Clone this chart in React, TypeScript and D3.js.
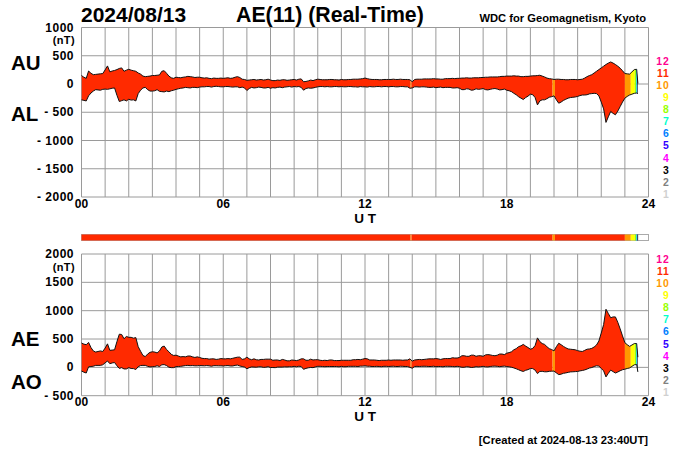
import * as d3 from "d3";

const WIDTH = 700;
const HEIGHT = 450;
const X0 = 81.5;
const X1 = 648.5;

// sample times in UT hours: every 0.1 h up to 23.5, then the final reading
const HOURS = [...d3.range(0, 236).map((i) => i / 10), 23.55];

const AU = [
  150, 120, 100, 230, 190, 165, 170, 175, 180, 185,
  250, 320, 215, 230, 240, 255, 275, 285, 225, 245,
  260, 245, 235, 225, 195, 175, 140, 130, 135, 140,
  150, 150, 155, 160, 225, 235, 190, 140, 110, 100,
  120, 115, 110, 120, 125, 135, 130, 125, 115, 120,
  120, 110, 105, 110, 100, 95, 105, 100, 100, 105,
  100, 105, 110, 100, 105, 120, 130, 115, 85, 80,
  65, 70, 75, 80, 70, 75, 80, 70, 75, 85,
  70, 60, 60, 70, 65, 75, 75, 65, 70, 75,
  80, 70, 85, 90, 40, 45, 55, 70, 60, 75,
  85, 80, 75, 75, 75, 80, 80, 75, 75, 70,
  80, 75, 75, 80, 80, 85, 85, 85, 90, 95,
  105, 95, 85, 80, 80, 80, 75, 75, 80, 80,
  80, 80, 85, 80, 80, 85, 80, 80, 80, 75,
  40, 80, 85, 85, 85, 90, 90, 90, 90, 95,
  90, 90, 85, 85, 95, 95, 95, 100, 95, 100,
  100, 105, 105, 110, 105, 105, 110, 110, 110, 115,
  115, 120, 120, 125, 125, 125, 125, 130, 135, 135,
  140, 140, 140, 145, 140, 140, 130, 130, 135, 135,
  140, 145, 145, 150, 155, 140, 125, 105, 95, 90,
  80, 85, 85, 80, 80, 75, 75, 80, 80, 80,
  75, 80, 85, 105, 130, 150, 165, 195, 225, 255,
  285, 315, 345, 370, 390, 370, 345, 315, 280, 235,
  185, 180, 175, 215, 255, 260, 10,
];
const AL = [
  -280, -290, -300, -210, -160, -125, -100, -105, -110, -95,
  -90, -95, -85, -75, -70, -200, -310, -295, -280, -300,
  -270, -285, -280, -300, -170, -110, -70, -60, -100, -125,
  -125, -120, -100, -130, -135, -140, -125, -135, -120, -110,
  -95, -85, -75, -70, -60, -65, -70, -60, -60, -65,
  -55, -50, -50, -45, -45, -55, -45, -40, -45, -50,
  -50, -45, -45, -50, -55, -50, -50, -65, -55, -70,
  -115, -80, -60, -70, -65, -55, -60, -70, -70, -60,
  -75, -65, -70, -60, -55, -65, -55, -50, -45, -55,
  -45, -50, -45, -60, -110, -80, -70, -75, -70, -60,
  -50, -45, -45, -50, -45, -50, -50, -45, -45, -50,
  -45, -50, -50, -45, -45, -50, -50, -55, -45, -50,
  -50, -55, -45, -50, -50, -45, -45, -50, -45, -45,
  -50, -45, -45, -50, -50, -45, -45, -50, -50, -75,
  -70, -50, -50, -55, -50, -50, -55, -60, -60, -55,
  -65, -60, -55, -65, -60, -60, -60, -70, -70, -65,
  -75, -100, -100, -85, -90, -110, -105, -85, -95, -90,
  -80, -100, -105, -95, -85, -80, -90, -105, -100, -90,
  -110, -120, -135, -165, -190, -225, -250, -275, -240, -215,
  -180, -190, -240, -370, -300, -280, -280, -260, -235, -225,
  -210, -280, -340, -320, -290, -270, -250, -240, -235, -230,
  -220, -205, -195, -195, -190, -175, -170, -165, -170, -210,
  -320, -440, -680, -580, -485, -520, -545, -480, -400, -320,
  -250, -220, -195, -180, -165, -160, -170,
];
const AE = [
  430, 410, 400, 440, 350, 290, 270, 280, 290, 280,
  340, 415, 300, 305, 310, 455, 585, 580, 505, 545,
  530, 530, 515, 525, 365, 285, 210, 190, 235, 265,
  275, 270, 255, 290, 360, 375, 315, 275, 230, 210,
  215, 200, 185, 190, 185, 200, 200, 185, 175, 185,
  175, 160, 155, 155, 145, 150, 150, 140, 145, 155,
  150, 150, 155, 150, 160, 170, 180, 180, 140, 150,
  180, 150, 135, 150, 135, 130, 140, 140, 145, 145,
  145, 125, 130, 130, 120, 140, 130, 115, 115, 130,
  125, 120, 130, 150, 150, 125, 125, 145, 130, 135,
  135, 125, 120, 125, 120, 130, 130, 120, 120, 120,
  125, 125, 125, 125, 125, 135, 135, 140, 135, 145,
  155, 150, 130, 130, 130, 125, 120, 125, 125, 125,
  130, 125, 130, 130, 130, 130, 125, 130, 130, 150,
  110, 130, 135, 140, 135, 140, 145, 150, 150, 150,
  155, 150, 140, 150, 155, 155, 155, 170, 165, 165,
  175, 205, 205, 195, 195, 215, 215, 195, 205, 205,
  195, 220, 225, 220, 210, 205, 215, 235, 235, 225,
  250, 260, 275, 310, 330, 365, 380, 405, 375, 350,
  320, 335, 385, 520, 455, 420, 405, 365, 330, 315,
  290, 365, 425, 400, 370, 345, 325, 320, 315, 310,
  295, 285, 280, 300, 320, 325, 335, 360, 395, 465,
  605, 755, 1025, 950, 875, 890, 890, 795, 680, 555,
  435, 400, 370, 395, 420, 420, 180,
];
const AO = [
  -65, -85, -100, 10, 15, 20, 35, 35, 35, 45,
  80, 112, 65, 78, 85, 28, -18, -5, -28, -28,
  -5, -20, -22, -38, 12, 32, 35, 35, 18, 8,
  12, 15, 28, 15, 45, 48, 32, 3, -5, -5,
  12, 15, 18, 25, 32, 35, 30, 32, 28, 28,
  32, 30, 28, 32, 28, 20, 30, 30, 28, 28,
  25, 30, 32, 25, 25, 35, 40, 25, 15, 5,
  -25, -5, 8, 5, 3, 10, 10, 0, 3, 12,
  -3, -3, -5, 5, 5, 5, 10, 8, 12, 10,
  18, 10, 20, 15, -35, -18, -8, -2, -5, 8,
  18, 18, 15, 12, 15, 15, 15, 15, 15, 10,
  18, 12, 12, 18, 18, 18, 18, 15, 22, 22,
  28, 20, 20, 15, 15, 18, 15, 12, 18, 18,
  15, 18, 20, 15, 15, 20, 18, 15, 15, 0,
  -15, 15, 18, 15, 18, 20, 18, 15, 15, 20,
  12, 15, 15, 10, 18, 18, 18, 15, 12, 18,
  12, 2, 2, 12, 8, -2, 2, 12, 8, 12,
  18, 10, 8, 15, 20, 22, 18, 12, 18, 22,
  15, 10, 2, -10, -25, -42, -60, -72, -52, -40,
  -20, -22, -48, -110, -72, -70, -78, -78, -70, -68,
  -65, -98, -128, -120, -105, -98, -88, -80, -78, -75,
  -72, -62, -55, -45, -30, -12, -3, 15, 28, 22,
  -18, -62, -168, -105, -48, -75, -100, -82, -60, -42,
  -32, -20, -10, 18, 45, 50, -80,
];

// number of contributing stations along the day
const SEGMENT_START = [0, 13.93, 13.97, 19.94, 20.04, 23.0, 23.25, 23.42, 23.47, 23.5, 23.53];
const SEGMENT_STATIONS = [11, 10, 11, 10, 11, 10, 9, 8, 7, 6, 3];
const SEGMENT_END = 23.56;

const STATION_LABELS = [12, 11, 10, 9, 8, 7, 6, 5, 4, 3, 2, 1];
const STATION_COLORS = [
  "#ff0090", "#ff2a00", "#ff9900", "#ffff00", "#99ff00", "#00ffcc",
  "#0080ff", "#3300ff", "#ff00ff", "#000000", "#808080", "#d0d0d0",
];

const TOP_TICKS = [1000, 500, 0, -500, -1000, -1500, -2000];
const BOTTOM_TICKS = [2000, 1500, 1000, 500, 0, -500];
const HOUR_LABELS = [0, 6, 12, 18, 24];

const FONT = "'Liberation Sans', Arial, sans-serif";

const x = d3.scaleLinear().domain([0, 24]).range([X0, X1]);
const yTop = d3.scaleLinear().domain([1000, -2000]).range([27.5, 197]);
const yBottom = d3.scaleLinear().domain([2000, -500]).range([254, 395.7]);

const stationColor = (n: number) => STATION_COLORS[STATION_LABELS.indexOf(n)];

const segments = SEGMENT_START.map((start, i) => ({
  start,
  end: SEGMENT_START[i + 1] ?? SEGMENT_END,
  color: stationColor(SEGMENT_STATIONS[i]),
}));

const tickText = (v: number) => (v < 0 ? `- ${-v}` : `${v}`);

function Panel({
  id,
  y,
  ticks,
  upper,
  lower,
  labelUpper,
  labelLower,
  labelUpperY,
  labelLowerY,
  stationRange,
}: {
  id: string;
  y: d3.ScaleLinear<number, number>;
  ticks: number[];
  upper: number[];
  lower: number[];
  labelUpper: string;
  labelLower: string;
  labelUpperY: number;
  labelLowerY: number;
  stationRange: [number, number];
}) {
  const [yMin, yMax] = y.range();
  const idx = d3.range(HOURS.length);
  const area = d3
    .area<number>()
    .x((i) => x(HOURS[i]))
    .y0((i) => y(lower[i]))
    .y1((i) => y(upper[i]))(idx)!;
  const upperLine = d3
    .line<number>()
    .x((i) => x(HOURS[i]))
    .y((i) => y(upper[i]))(idx)!;
  const lowerLine = d3
    .line<number>()
    .x((i) => x(HOURS[i]))
    .y((i) => y(lower[i]))(idx)!;
  const stationY = d3.scalePoint<number>().domain(STATION_LABELS).range(stationRange);

  return (
    <g>
      {d3.range(0, 25).map((h) => (
        <line key={h} x1={x(h)} x2={x(h)} y1={yMin} y2={yMax} stroke="#9a9a9a" strokeWidth={1} />
      ))}
      {ticks.map((t) => (
        <line key={t} x1={X0} x2={X1} y1={y(t)} y2={y(t)} stroke="#9a9a9a" strokeWidth={1} />
      ))}
      {segments.map((s, i) => (
        <g key={i}>
          <clipPath id={`${id}-clip-${i}`}>
            <rect x={x(s.start)} y={yMin} width={x(s.end) - x(s.start)} height={yMax - yMin} />
          </clipPath>
          <path d={area} fill={s.color} clipPath={`url(#${id}-clip-${i})`} />
        </g>
      ))}
      <path d={upperLine} fill="none" stroke="#111" strokeWidth={1} />
      <path d={lowerLine} fill="none" stroke="#111" strokeWidth={1} />
      {ticks.map((t) => (
        <text key={t} x={74} y={y(t) + 4} textAnchor="end" fontSize={12} letterSpacing={0.5} fontWeight="bold">
          {tickText(t)}
        </text>
      ))}
      <text x={75} y={yMin + 16.5} textAnchor="end" fontSize={11} letterSpacing={0.4} fontWeight="bold">
        (nT)
      </text>
      {HOUR_LABELS.map((h) => (
        <text key={h} x={x(h)} y={yMax + 10.5} textAnchor="middle" fontSize={12} fontWeight="bold">
          {d3.format("02d")(h)}
        </text>
      ))}
      <text x={365} y={yMax + 25.5} textAnchor="middle" fontSize={13.5} fontWeight="bold">
        U T
      </text>
      <text x={11} y={labelUpperY} fontSize={20.5} fontWeight="bold">
        {labelUpper}
      </text>
      <text x={11} y={labelLowerY} fontSize={20.5} fontWeight="bold">
        {labelLower}
      </text>
      {STATION_LABELS.map((n, i) => (
        <text
          key={n}
          x={669.5}
          y={stationY(n)}
          textAnchor="end"
          fontSize={10.4}
          letterSpacing={0.8}
          fontWeight="bold"
          fill={STATION_COLORS[i]}
        >
          {n}
        </text>
      ))}
    </g>
  );
}

export default function App() {
  return (
    <svg
      width={WIDTH}
      height={HEIGHT}
      viewBox={`0 0 ${WIDTH} ${HEIGHT}`}
      style={{ position: "absolute", left: 0, top: 0, background: "#fff", fontFamily: FONT }}
    >
      <text x={81} y={22} fontSize={21} fontWeight="bold">
        2024/08/13
      </text>
      <text x={236} y={22} fontSize={21.3} fontWeight="bold">
        AE(11) (Real-Time)
      </text>
      <text x={646} y={22} textAnchor="end" fontSize={11.2} fontWeight="bold">
        WDC for Geomagnetism, Kyoto
      </text>

      <Panel
        id="top"
        y={yTop}
        ticks={TOP_TICKS}
        upper={AU}
        lower={AL}
        labelUpper="AU"
        labelLower="AL"
        labelUpperY={70}
        labelLowerY={121}
        stationRange={[65, 197.7]}
      />

      <rect x={X0} y={234.5} width={X1 - X0} height={6} fill="#fff" stroke="#aaa" strokeWidth={1} />
      {segments.map((s, i) => (
        <rect key={i} x={x(s.start)} y={234.5} width={x(s.end) - x(s.start)} height={6} fill={s.color} />
      ))}

      <Panel
        id="bottom"
        y={yBottom}
        ticks={BOTTOM_TICKS}
        upper={AE}
        lower={AO}
        labelUpper="AE"
        labelLower="AO"
        labelUpperY={346}
        labelLowerY={389}
        stationRange={[262.7, 396]}
      />

      <text x={648} y={444} textAnchor="end" fontSize={11.2} fontWeight="bold">
        [Created at 2024-08-13 23:40UT]
      </text>
    </svg>
  );
}
